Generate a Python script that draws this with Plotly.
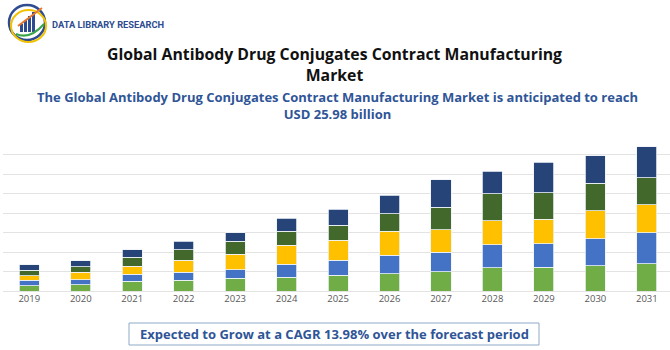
import plotly.graph_objects as go

years = ["2019", "2020", "2021", "2022", "2023", "2024", "2025", "2026", "2027", "2028", "2029", "2030", "2031"]
seg1 = [0.96, 1.08, 1.79, 1.97, 2.33, 2.45, 2.81, 3.11, 3.47, 4.13, 4.25, 4.55, 4.91]
seg2 = [0.96, 0.90, 1.26, 1.44, 1.50, 2.33, 2.69, 3.35, 3.47, 4.13, 4.25, 4.85, 5.56]
seg3 = [0.78, 1.38, 1.38, 2.09, 2.75, 3.41, 3.59, 4.25, 4.01, 4.31, 4.37, 5.03, 4.97]
seg4 = [1.02, 1.02, 1.67, 1.91, 2.39, 2.57, 2.75, 3.17, 4.07, 4.85, 4.79, 4.91, 4.91]
seg5 = [0.96, 1.02, 1.26, 1.56, 1.50, 2.33, 2.81, 3.29, 4.97, 4.07, 5.44, 4.91, 5.50]

series = [("Segment 1", seg1, "#70AD47"),
          ("Segment 2", seg2, "#4472C4"),
          ("Segment 3", seg3, "#FFC000"),
          ("Segment 4", seg4, "#43682B"),
          ("Segment 5", seg5, "#264478")]

title1 = "Global Antibody Drug Conjugates Contract Manufacturing"
title2 = "Market"
sub1 = "The Global Antibody Drug Conjugates Contract Manufacturing Market is anticipated to reach"
sub2 = "USD 25.98 billion"
footer = "Expected to Grow at a CAGR 13.98% over the forecast period"
brand = "DATA LIBRARY RESEARCH"

W, H = 670, 350
L, R, T, B = 3, 0, 135, 59
pw, ph = W - L - R, H - T - B


def px(x):
    return (x - L) / pw


def py(y):
    return (H - B - y) / ph


fig = go.Figure()
for name, vals, col in series:
    fig.add_trace(go.Bar(x=list(range(len(years))), y=vals, name=name,
                         marker=dict(color=col, line=dict(color="#EEF2F8", width=0.8)),
                         width=0.39))

FONT = "Open Sans"
ann = []
ann.append(dict(text="<b>" + title1 + "</b><br><b>" + title2 + "</b>", x=px(334), y=py(64.5),
                xref="paper", yref="paper", showarrow=False,
                font=dict(size=15.8, color="#111111", family=FONT), xanchor="center", yanchor="middle"))
ann.append(dict(text="<b>" + sub1 + "</b><br><b>" + sub2 + "</b>", x=px(337), y=py(105.5),
                xref="paper", yref="paper", showarrow=False,
                font=dict(size=13, color="#2F5597", family=FONT), xanchor="center", yanchor="middle"))
ann.append(dict(text="<b>" + footer + "</b>", x=px(334), y=py(334), xref="paper", yref="paper",
                showarrow=False, font=dict(size=13, color="#2F5597", family=FONT), xanchor="center", yanchor="middle"))
ann.append(dict(text="<b>" + brand + "</b>", x=px(50), y=py(24), xref="paper", yref="paper",
                showarrow=False, font=dict(size=9.3, color="#2E4C8F", family="Roboto"), xanchor="left", yanchor="middle"))

shapes = []
shapes.append(dict(type="rect", xref="paper", yref="paper", x0=px(129), x1=px(539), y0=py(345), y1=py(323),
                   line=dict(color="#8EA9C8", width=1), fillcolor="rgba(0,0,0,0)"))
# logo
shapes.append(dict(type="circle", xref="paper", yref="paper", x0=px(9), x1=px(45), y0=py(40), y1=py(5),
                   line=dict(color="#2E4C8F", width=2.5), fillcolor="rgba(0,0,0,0)"))
shapes.append(dict(type="circle", xref="paper", yref="paper", x0=px(11), x1=px(46), y0=py(42), y1=py(10),
                   line=dict(color="#F2C200", width=2), fillcolor="rgba(0,0,0,0)"))
for i, (x0, h) in enumerate([(20, 8), (24, 12), (28, 16), (32, 20)]):
    shapes.append(dict(type="rect", xref="paper", yref="paper", x0=px(x0), x1=px(x0 + 3), y0=py(32), y1=py(32 - h),
                       line=dict(width=0), fillcolor="#2E4C8F"))
shapes.append(dict(type="line", xref="paper", yref="paper", x0=px(18), x1=px(42), y0=py(26), y1=py(8),
                   line=dict(color="#E8782A", width=2)))
shapes.append(dict(type="path", xref="paper", yref="paper",
                   path=f"M {px(16)} {py(34)} Q {px(30)} {py(40)} {px(44)} {py(24)}",
                   line=dict(color="#3AA44A", width=2)))

fig.update_layout(
    width=W, height=H, margin=dict(l=L, r=R, t=T, b=B),
    barmode="stack", showlegend=False,
    plot_bgcolor="white", paper_bgcolor="white",
    annotations=ann, shapes=shapes,
    xaxis=dict(tickmode="array", tickvals=list(range(len(years))), ticktext=years,
               range=[-0.511, 12.45], showgrid=False, zeroline=False, showline=False,
               tickfont=dict(size=9.5, color="#595959", family=FONT), ticks=""),
    yaxis=dict(range=[0, 28], dtick=3.5, showticklabels=False, showgrid=True,
               gridcolor="#E3E3E3", gridwidth=1.2, zeroline=True, zerolinecolor="#E3E3E3", zerolinewidth=1.2),
)

fig.write_html("out.html")
